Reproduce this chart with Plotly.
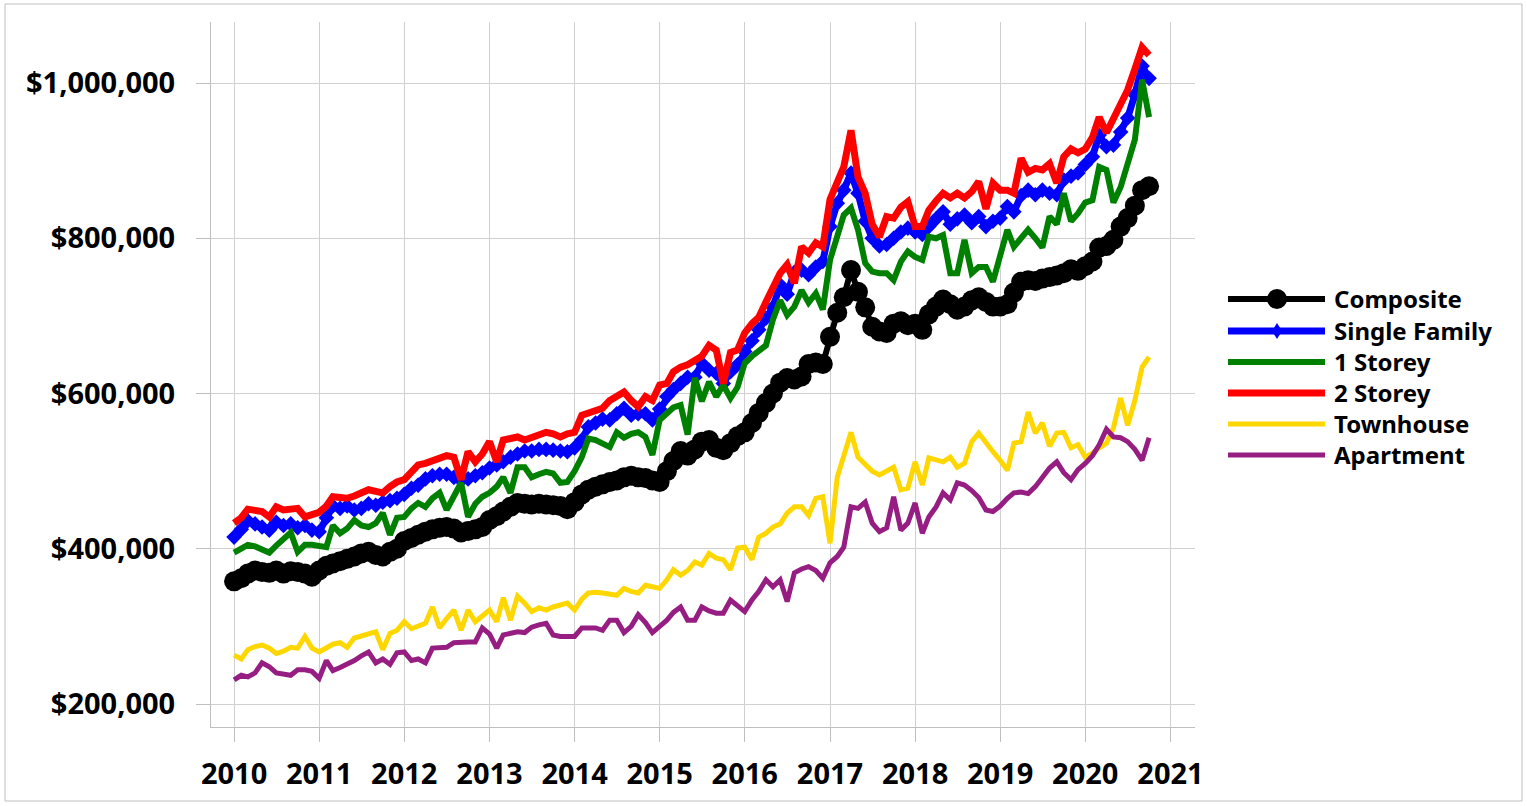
import pandas as pd
import plotly.graph_objects as go

# Monthly benchmark prices, Jan 2010 - Oct 2020 (thousands of dollars)
months = pd.date_range("2010-01-01", periods=130, freq="MS")

composite_k = [
    358, 362, 368, 372, 370, 369, 372, 368, 371, 370, 368, 364,
    372, 378, 381, 384, 387, 390, 394, 396, 392, 390, 396, 400,
    410, 414, 418, 422, 425, 427, 428, 426, 421, 423, 425, 428,
    437, 442, 448, 454, 459, 458, 457, 458, 457, 456, 455, 451,
    460, 470, 476, 480, 483, 486, 488, 492, 494, 492, 491, 488,
    486, 500, 513, 526, 520, 528, 538, 540, 530, 527, 536, 545,
    550, 562, 575, 588, 600, 614, 620, 618, 622, 638, 640, 638,
    673, 704, 724, 759, 731, 711, 686, 680, 678, 690, 693, 688,
    690, 682, 702, 712, 721, 715, 708, 712, 720, 724, 718, 712,
    712, 715, 730, 744, 746, 745, 748, 750, 752, 755, 760, 758,
    764, 770, 788, 790, 798, 815, 826, 842, 862, 867,
]

single_family_k = [
    415, 425, 436, 432, 428, 424, 434, 430, 432, 427, 430, 424,
    422, 440, 455, 452, 455, 450, 452, 458, 456, 460, 462, 465,
    470, 478, 482, 490, 494, 496, 496, 492, 488, 490, 494, 498,
    504, 508, 512, 518, 522, 526, 526, 528, 528, 527, 526, 525,
    530, 540, 557, 562, 567, 566, 574, 581, 572, 574, 574, 566,
    580, 596, 605, 613, 621, 621, 639, 630, 626, 613, 628, 637,
    654, 668, 682, 697, 711, 740, 728, 756, 759, 753, 763, 770,
    815, 845, 862, 884, 858, 822, 800, 790, 792, 800, 808, 813,
    808, 805, 815, 825, 834, 818, 825, 830, 820, 828, 815, 822,
    826, 841, 834, 855, 862, 856, 862, 858, 856, 875, 880, 884,
    895, 905, 933, 918, 920, 937, 955, 985, 1022, 1006,
]

one_storey_k = [
    395, 400, 405, 403, 400, 395, 404, 412, 421, 396, 405, 405,
    404, 402, 430, 420, 426, 437, 430, 428, 433, 446, 418, 440,
    441, 452, 459, 454, 465, 472, 450, 468, 485, 441, 458, 467,
    472, 480, 492, 472, 505, 505, 492, 496, 499, 497, 485, 486,
    500, 518, 542, 540, 536, 531, 550, 543, 548, 550, 544, 521,
    566, 575, 582, 585, 547, 620, 590, 615, 596, 611, 594, 608,
    639, 648, 656, 662, 695, 720, 701, 712, 733, 717, 729, 708,
    772, 800, 830, 839, 811, 768, 757, 755, 755, 746, 770, 783,
    776, 772, 802, 800, 804, 755, 755, 798, 755, 763, 763, 744,
    780, 811, 789, 800, 811, 800, 788, 828, 818, 858, 822, 832,
    846, 849, 892, 888, 846, 866, 897, 927, 1004, 956,
]

two_storey_k = [
    433, 440, 451, 450, 448, 441, 454, 450, 450, 452, 441, 445,
    447, 455, 467, 466, 465, 468, 472, 476, 474, 472, 480, 486,
    489, 500, 508, 510, 514, 516, 520, 518, 489, 525, 512, 522,
    538, 512, 540, 542, 544, 540, 544, 546, 550, 548, 544, 548,
    550, 572, 575, 578, 581, 591, 597, 602, 591, 583, 596, 591,
    611, 613, 628, 634, 637, 642, 648, 662, 656, 613, 653, 656,
    678, 690, 698, 718, 735, 755, 766, 742, 789, 781, 794, 789,
    850, 872, 892, 939, 879, 858, 818, 802, 828, 826, 840, 847,
    815, 815, 836, 848, 858, 852, 858, 852, 860, 873, 838, 871,
    862, 862, 858, 903, 885, 890, 888, 896, 871, 905, 915, 910,
    915, 930, 956, 936, 955, 975, 991, 1018, 1046, 1036,
]

townhouse_k = [
    263, 258, 270, 274, 276, 272, 265, 268, 273, 272, 287, 272,
    267, 272, 277, 279, 273, 285, 288, 291, 293, 270, 291, 295,
    306, 297, 301, 304, 325, 298, 310, 321, 295, 321, 306, 314,
    321, 306, 337, 308, 339, 330, 319, 324, 321, 325, 328, 330,
    321, 335, 343, 344, 343, 342, 340, 349, 345, 343, 353, 351,
    349, 360, 373, 366, 372, 383, 379, 394, 388, 386, 373, 401,
    402, 386, 415, 420, 428, 432, 446, 454, 454, 443, 465, 467,
    407, 492, 521, 550, 518, 508, 500, 495, 500, 505, 476, 478,
    512, 482, 517, 514, 512, 518, 505, 510, 538, 549, 536, 525,
    514, 501, 536, 538, 576, 549, 562, 532, 549, 550, 530, 534,
    518, 523, 530, 536, 556, 594, 559, 591, 634, 647,
]

apartment_k = [
    231, 237, 235, 240, 253, 248, 240, 238, 237, 244, 244, 242,
    233, 256, 243, 247, 251, 256, 262, 267, 253, 258, 251, 266,
    267, 256, 258, 253, 272, 272, 273, 279, 280, 280, 280, 298,
    290, 272, 289, 291, 293, 292, 299, 302, 304, 289, 287, 287,
    287, 298, 298, 298, 295, 308, 308, 292, 300, 315, 305, 292,
    300, 308, 318, 325, 308, 308, 325, 320, 317, 317, 334, 327,
    319, 334, 345, 360, 351, 360, 332, 369, 374, 377, 372, 362,
    382, 390, 402, 454, 452, 460, 433, 422, 427, 467, 424, 433,
    459, 420, 441, 454, 472, 463, 485, 482, 475, 466, 450, 448,
    455, 465, 472, 473, 471, 480, 492, 504, 512, 498, 489, 502,
    510, 520, 534, 554, 544, 543, 538, 528, 514, 543,
]

series_names = ["Composite", "Single Family", "1 Storey", "2 Storey", "Townhouse", "Apartment"]
year_ticks = [f"{y}-01-01" for y in range(2010, 2022)]
price_ticks = [200000, 400000, 600000, 800000, 1000000]

styles = {
    "Composite": dict(color="#000000", width=6, symbol="circle", size=20),
    "Single Family": dict(color="#0000FF", width=7, symbol="diamond", size=12),
    "1 Storey": dict(color="#008000", width=6, symbol=None, size=0),
    "2 Storey": dict(color="#FF0000", width=7, symbol=None, size=0),
    "Townhouse": dict(color="#FFD700", width=5, symbol=None, size=0),
    "Apartment": dict(color="#961E82", width=5, symbol=None, size=0),
}
values = {
    "Composite": composite_k,
    "Single Family": single_family_k,
    "1 Storey": one_storey_k,
    "2 Storey": two_storey_k,
    "Townhouse": townhouse_k,
    "Apartment": apartment_k,
}

W, H = 1527, 806
ML, MR, MT, MB = 211, 332, 22, 79
PW, PH = W - ML - MR, H - MT - MB


def fx(px):
    return (px - ML) / PW


def fy(py):
    return (H - MB - py) / PH


FONT = "Noto Sans"

fig = go.Figure()
for name in series_names:
    st = styles[name]
    kw = dict(mode="lines")
    if st["symbol"]:
        kw = dict(mode="lines+markers",
                  marker=dict(symbol=st["symbol"], size=st["size"], color=st["color"],
                              line=dict(width=0)))
    fig.add_trace(go.Scatter(
        x=months, y=[v * 1000 for v in values[name]], name=name,
        line=dict(color=st["color"], width=st["width"]),
        showlegend=False, hoverinfo="x+y+name", **kw))

# legend drawn as long line samples with text on the right
shapes, annotations = [], []
row_y = [299, 331, 362, 393, 424, 455]
for name, ry in zip(series_names, row_y):
    st = styles[name]
    shapes.append(dict(type="line", xref="paper", yref="paper",
                       x0=fx(1228), x1=fx(1325), y0=fy(ry), y1=fy(ry),
                       line=dict(color=st["color"], width=st["width"])))
    if st["symbol"] == "circle":
        shapes.append(dict(type="circle", xref="paper", yref="paper",
                           xsizemode="pixel", ysizemode="pixel",
                           xanchor=fx(1277), yanchor=fy(ry),
                           x0=-10, x1=10, y0=-10, y1=10,
                           fillcolor=st["color"], line=dict(width=0)))
    elif st["symbol"] == "diamond":
        shapes.append(dict(type="path", xref="paper", yref="paper",
                           xsizemode="pixel", ysizemode="pixel",
                           xanchor=fx(1277), yanchor=fy(ry),
                           path="M 0,-8 L 5,0 L 0,8 L -5,0 Z",
                           fillcolor=st["color"], line=dict(width=0)))
    annotations.append(dict(text=name, xref="paper", yref="paper",
                            x=fx(1332), y=fy(ry - 1), xanchor="left", yanchor="middle",
                            showarrow=False,
                            font=dict(family=FONT, size=24, color="#000000", weight="bold")))

# outer frame of the chart
shapes.append(dict(type="rect", xref="paper", yref="paper",
                   x0=fx(5), x1=fx(1522), y0=fy(801), y1=fy(4),
                   line=dict(color="#BFBFBF", width=1), fillcolor="rgba(0,0,0,0)"))

fig.update_layout(
    width=W, height=H,
    margin=dict(l=ML, r=MR, t=MT, b=MB, pad=0, autoexpand=False),
    paper_bgcolor="white", plot_bgcolor="white",
    showlegend=False,
    shapes=shapes, annotations=annotations,
    font=dict(family=FONT, color="#000000"),
)
fig.update_xaxes(
    type="date", range=["2009-09-24", "2021-04-16"],
    tickvals=year_ticks, tickformat="%Y",
    ticks="outside", ticklen=14, tickcolor="#BFBFBF", tickwidth=1,
    showgrid=True, gridcolor="#D0D0D0", gridwidth=1,
    showline=True, linecolor="#BFBFBF", linewidth=1,
    zeroline=False, ticklabelstandoff=7, automargin=False,
    tickfont=dict(family=FONT, size=29, color="#000000", weight="bold"),
)
fig.update_yaxes(
    range=[170370, 1078600],
    tickvals=price_ticks, tickformat="$,.0f",
    ticks="outside", ticklen=14, tickcolor="#BFBFBF", tickwidth=1,
    showgrid=True, gridcolor="#D0D0D0", gridwidth=1,
    showline=True, linecolor="#BFBFBF", linewidth=1,
    zeroline=False, ticklabelstandoff=15, automargin=False,
    tickfont=dict(family=FONT, size=29, color="#000000", weight="bold"),
)

fig.write_html("out.html")
